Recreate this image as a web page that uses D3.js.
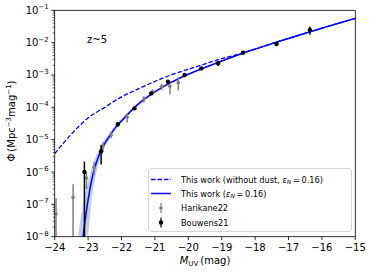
<!DOCTYPE html>
<html><head><meta charset="utf-8">
<script src="https://cdn.jsdelivr.net/npm/d3@7"></script>
<style>body{margin:0;background:#fff}svg{display:block;font-family:"DejaVu Sans",sans-serif}</style>
</head><body><svg id="c" width="374" height="273"></svg>
<script>
// ---- data ----
const xTicks = [-24,-23,-22,-21,-20,-19,-18,-17,-16,-15];
const yTickExps = [-8,-7,-6,-5,-4,-3,-2,-1];
const solidM   = [-23.15,-23.05,-22.95,-22.85,-22.75,-22.6,-22.4,-22.2,-22.0,-21.75,-21.5,-21.25,-21.0,-20.5,-20.0,-19.5,-19.0,-18.5,-18.0,-17.5,-17.0,-16.5,-16.0,-15.5,-15.0];
const solidPhi = [1e-8,6.3e-8,2.8e-7,8.9e-7,2.0e-6,5.0e-6,1.12e-5,2.24e-5,3.8e-5,7.1e-5,1.26e-4,2.0e-4,3.0e-4,6.0e-4,1.05e-3,1.7e-3,2.7e-3,4.2e-3,6.3e-3,9.3e-3,1.35e-2,1.95e-2,2.8e-2,4.0e-2,5.6e-2];
const dashM   = [-24.0,-23.75,-23.5,-23.25,-23.0,-22.5,-22.0,-21.5,-21.0,-20.5,-20.0,-19.5,-19.0,-18.5,-18.0,-17.5,-17.0,-16.5,-16.0,-15.5,-15.0];
const dashPhi = [3.7e-6,7.6e-6,1.48e-5,2.75e-5,4.7e-5,1.0e-4,2.1e-4,3.7e-4,6.3e-4,1.02e-3,1.5e-3,2.2e-3,3.2e-3,4.4e-3,6.3e-3,9.3e-3,1.35e-2,1.95e-2,2.8e-2,4.0e-2,5.6e-2];
const bandM     = [-23.3,-23.2,-23.1,-23.0,-22.9,-22.8,-22.6,-22.4,-22.2,-22.0,-21.5,-21.0,-20.0,-19.0,-18.0,-17.0,-16.0,-15.0];
const bandUpper = [1e-8,5.0e-8,1.8e-7,5.0e-7,1.26e-6,2.5e-6,7.1e-6,1.41e-5,2.6e-5,4.4e-5,1.38e-4,3.2e-4,1.1e-3,2.8e-3,6.6e-3,1.41e-2,2.95e-2,5.9e-2];
const bandLower = [1e-8,1e-8,1e-8,1.26e-8,1.26e-7,5.6e-7,3.5e-6,8.9e-6,1.9e-5,3.3e-5,1.15e-4,2.8e-4,1.0e-3,2.57e-3,6.0e-3,1.29e-2,2.7e-2,5.4e-2];
// Harikane22 (grey)
const hariM   = [-23.96,-23.45,-23.05,-22.82,-22.56,-22.31,-21.83,-21.33,-21.07,-20.80,-20.55,-20.30];
const hariPhi = [5.0e-8,1.65e-7,6.5e-7,1.4e-6,6.3e-6,1.4e-5,4.9e-5,1.8e-4,3.0e-4,4.4e-4,4.5e-4,5.8e-4];
const hariErr = [1.05e-7,2.5e-7,3.5e-7,6.0e-7,2.0e-6,3.0e-6,1.5e-5,4.0e-5,6.0e-5,1.0e-4,2.0e-4,2.5e-4];
// Bouwens21 (black)
const bouwM   = [-23.11,-22.61,-22.11,-21.61,-21.11,-20.61,-20.11,-19.61,-19.11,-18.36,-17.36,-16.36];
const bouwPhi = [1.0e-6,4.3e-6,3.0e-5,9.3e-5,2.7e-4,6.2e-4,1.0e-3,1.6e-3,2.3e-3,4.9e-3,9.1e-3,2.45e-2];
const bouwErr = [1.1e-6,2.6e-6,5e-6,1.2e-5,3e-5,6e-5,1e-4,1.8e-4,4e-4,5e-4,1.2e-3,7e-3];

// ---- layout ----
const svg = d3.select("#c");
const L=54.7, R=355.3, T=10.3, B=236.7;
const x = d3.scaleLinear().domain([-24,-15]).range([L,R]);
const y = d3.scaleLog().domain([1e-8,1e-1]).range([B,T]);
const clamp = v => Math.max(v, 1e-9);

svg.append("defs").append("clipPath").attr("id","clip")
  .append("rect").attr("x",L).attr("y",T).attr("width",R-L).attr("height",B-T);
const g = svg.append("g").attr("clip-path","url(#clip)");

// band
const band = bandM.map((m,i)=>({m, hi:bandUpper[i], lo:bandLower[i]}));
g.append("path").datum(band)
  .attr("d", d3.area().x(d=>x(d.m)).y0(d=>y(d.lo)).y1(d=>y(d.hi)).curve(d3.curveMonotoneX))
  .attr("fill","#b3c6e4").attr("opacity",0.85);

// dashed
const line = d3.line().x(d=>x(d[0])).y(d=>y(d[1])).curve(d3.curveMonotoneX);
g.append("path").datum(dashM.map((m,i)=>[m,dashPhi[i]]))
  .attr("d", line).attr("fill","none").attr("stroke","#0000ff").attr("stroke-width",1.3)
  .attr("stroke-dasharray","4.5,2");
// solid
g.append("path").datum(solidM.map((m,i)=>[m,solidPhi[i]]))
  .attr("d", line).attr("fill","none").attr("stroke","#0000ff").attr("stroke-width",1.5);

// error bars
function errs(M,P,E,color,w,r){
  M.forEach((m,i)=>{
    const lo = clamp(P[i]-E[i]), hi = P[i]+E[i];
    g.append("line").attr("x1",x(m)).attr("x2",x(m)).attr("y1",y(lo)).attr("y2",y(hi))
      .attr("stroke",color).attr("stroke-width",w);
    g.append("circle").attr("cx",x(m)).attr("cy",y(P[i])).attr("r",r).attr("fill",color);
  });
}
errs(hariM,hariPhi,hariErr,"#808080",1.5,1.8);
errs(bouwM,bouwPhi,bouwErr,"#000000",1.5,2.2);

// axes frame
svg.append("rect").attr("x",L).attr("y",T).attr("width",R-L).attr("height",B-T)
  .attr("fill","none").attr("stroke","#000").attr("stroke-width",0.8);

// x ticks
xTicks.forEach(t=>{
  svg.append("line").attr("x1",x(t)).attr("x2",x(t)).attr("y1",B).attr("y2",B+3.5).attr("stroke","#000").attr("stroke-width",0.8);
  svg.append("text").attr("x",x(t)).attr("y",B+14).attr("text-anchor","middle").attr("font-size",10)
    .text(String(t).replace("-","\u2212"));
});
// y ticks
yTickExps.forEach(e=>{
  const v = Math.pow(10,e);
  svg.append("line").attr("x1",L-3.5).attr("x2",L).attr("y1",y(v)).attr("y2",y(v)).attr("stroke","#000").attr("stroke-width",0.8);
  const t = svg.append("text").attr("x",L-6).attr("y",y(v)+3.5).attr("text-anchor","end").attr("font-size",10);
  t.append("tspan").text("10");
  t.append("tspan").attr("font-size",7).attr("dy",-4.5).text("\u2212"+Math.abs(e));
  if(e<-1){
    for(let k=2;k<10;k++){
      const mv = k*v;
      svg.append("line").attr("x1",L-2).attr("x2",L).attr("y1",y(mv)).attr("y2",y(mv)).attr("stroke","#000").attr("stroke-width",0.6);
    }
  }
});

// labels
const xl = svg.append("text").attr("x",205).attr("y",264).attr("text-anchor","middle").attr("font-size",10);
xl.append("tspan").attr("font-style","italic").text("M");
xl.append("tspan").attr("font-size",7).attr("dy",2).text("UV");
xl.append("tspan").attr("dy",-2).text("\u2009(mag)");

const yl = svg.append("text").attr("transform","translate(15,121) rotate(-90)").attr("text-anchor","middle").attr("font-size",10);
yl.append("tspan").text("\u03a6\u2009(Mpc");
yl.append("tspan").attr("font-size",7).attr("dy",-4).text("\u22123");
yl.append("tspan").attr("dy",4).text("mag");
yl.append("tspan").attr("font-size",7).attr("dy",-4).text("\u22121");
yl.append("tspan").attr("dy",4).text(")");

svg.append("text").attr("x",87).attr("y",43).attr("font-size",10).text("z~5");

// legend
const lg = svg.append("g");
lg.append("rect").attr("x",148.5).attr("y",168.5).attr("width",203).attr("height",63).attr("rx",2.5)
  .attr("fill","#fff").attr("fill-opacity",0.8).attr("stroke","#cccccc").attr("stroke-width",0.8);
const rows=[179.5,193.5,208,222.5];
lg.append("line").attr("x1",151).attr("x2",171).attr("y1",rows[0]).attr("y2",rows[0]).attr("stroke","#0000ff").attr("stroke-width",1.3).attr("stroke-dasharray","4.5,2");
lg.append("line").attr("x1",151).attr("x2",171).attr("y1",rows[1]).attr("y2",rows[1]).attr("stroke","#0000ff").attr("stroke-width",1.5);
[[rows[2],"#808080",1.8],[rows[3],"#000",2.2]].forEach(([ry,c,r])=>{
  lg.append("line").attr("x1",161).attr("x2",161).attr("y1",ry-5).attr("y2",ry+5).attr("stroke",c).attr("stroke-width",1.2);
  lg.append("circle").attr("cx",161).attr("cy",ry).attr("r",r).attr("fill",c);
});
function epsText(t, pre){
  t.append("tspan").text(pre);
  t.append("tspan").attr("font-style","italic").text("\u03b5");
  t.append("tspan").attr("font-style","italic").attr("font-size",6).attr("dy",1.5).text("N");
  t.append("tspan").attr("dy",-1.5).text("\u2009=\u20090.16)");
}
const fs=8.2;
epsText(lg.append("text").attr("x",181).attr("y",rows[0]+3).attr("font-size",fs), "This work (without dust, ");
epsText(lg.append("text").attr("x",181).attr("y",rows[1]+3).attr("font-size",fs), "This work (");
lg.append("text").attr("x",181).attr("y",rows[2]+3).attr("font-size",fs).text("Harikane22");
lg.append("text").attr("x",181).attr("y",rows[3]+3).attr("font-size",fs).text("Bouwens21");
</script></body></html>
